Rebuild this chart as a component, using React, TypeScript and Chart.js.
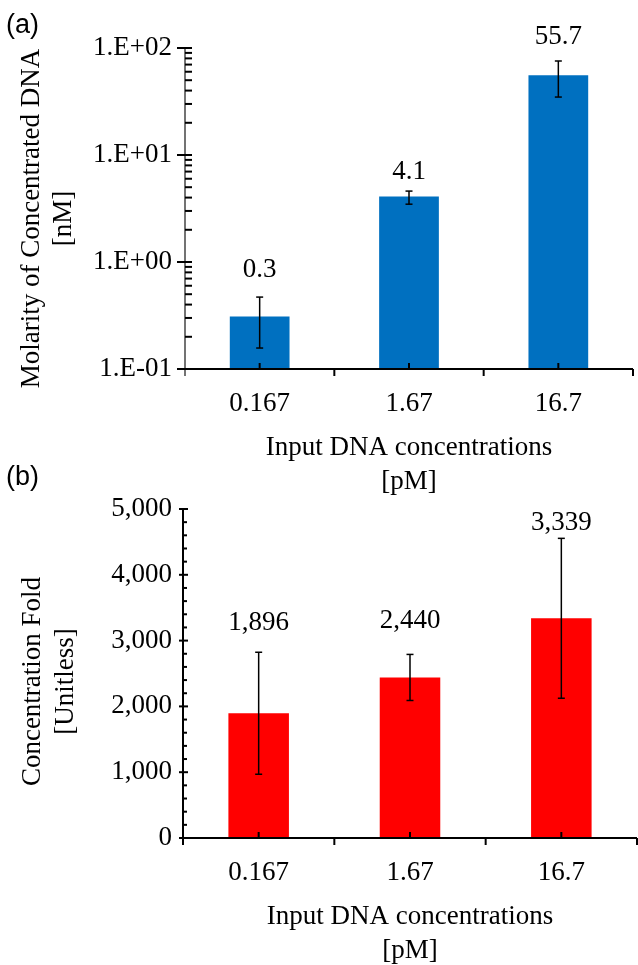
import React, { useEffect, useRef } from 'react';
import { Chart, registerables } from 'chart.js';

Chart.register(...registerables);

const categories = ['0.167', '1.67', '16.7'];

// (a) Molarity of concentrated DNA [nM]
const molarity = [0.31, 4.1, 55.7];
const molarityErrLow = [0.157, 3.47, 34.8];
const molarityErrHigh = [0.47, 4.6, 75.6];
const molarityLabels = ['0.3', '4.1', '55.7'];
const molarityTicks = [0.1, 1, 10, 100];

// (b) Concentration fold [unitless]
const fold = [1896, 2440, 3339];
const foldErr = [927, 350, 1215];
const foldLabels = ['1,896', '2,440', '3,339'];
const foldTicks = [0, 1000, 2000, 3000, 4000, 5000];

const SERIF = '"Liberation Serif", "Times New Roman", Times, serif';
const SANS = '"Liberation Sans", Arial, Helvetica, sans-serif';
const FS = 27;

type Deco = {
  panel: string; panelX: number; panelY: number;
  yTitle: string[]; yTitleX: number[]; yTitleShift: number;
  xTitle: string[]; xTitleDy: number[];
  majorTicks: number[]; minorTicks: number[];
  majorLeft: number; majorRight: number; minorRight: number;
  yAxisColor: string; yAxisWidth: number;
  errLow: number[]; errHigh: number[]; labels: string[]; labelGaps: number[];
};

function makeDeco(d: Deco) {
  return {
    id: 'deco',
    afterDatasetsDraw(chart: any) {
      const { ctx, chartArea: a } = chart;
      const xs = chart.scales.x;
      const ys = chart.scales.y;
      const n = chart.data.labels.length;
      const line = (x1: number, y1: number, x2: number, y2: number) => {
        ctx.beginPath(); ctx.moveTo(x1, y1); ctx.lineTo(x2, y2); ctx.stroke();
      };
      ctx.save();
      ctx.lineCap = 'butt';
      // error bars
      ctx.strokeStyle = '#000';
      ctx.lineWidth = 1.5;
      const tops: number[] = [];
      for (let i = 0; i < n; i++) {
        const px = xs.getPixelForValue(i);
        const t = ys.getPixelForValue(d.errHigh[i]);
        const b = ys.getPixelForValue(d.errLow[i]);
        tops.push(t);
        line(px, t, px, b);
        line(px - 3.5, t, px + 3.5, t);
        line(px - 3.5, b, px + 3.5, b);
      }
      // y axis line
      ctx.strokeStyle = d.yAxisColor;
      ctx.lineWidth = d.yAxisWidth;
      line(a.left, a.top, a.left, a.bottom + 7);
      // x axis line
      ctx.strokeStyle = '#000';
      ctx.lineWidth = 2;
      line(a.left - d.majorLeft, a.bottom, a.right, a.bottom);
      // y ticks
      d.majorTicks.forEach((v) => {
        const py = ys.getPixelForValue(v);
        line(a.left - d.majorLeft, py, a.left + d.majorRight, py);
      });
      d.minorTicks.forEach((v) => {
        const py = ys.getPixelForValue(v);
        line(a.left, py, a.left + d.minorRight, py);
      });
      // x ticks: category boundaries (down) and centers (up)
      for (let i = 1; i <= n; i++) {
        const bx = xs.getPixelForValue(i - 0.5);
        line(bx, a.bottom, bx, a.bottom + 7);
      }
      for (let i = 0; i < n; i++) {
        const cx = xs.getPixelForValue(i);
        line(cx, a.bottom, cx, a.bottom - 6);
      }
      // value labels
      ctx.fillStyle = '#000';
      ctx.font = `${FS}px ${SERIF}`;
      ctx.textAlign = 'center';
      ctx.textBaseline = 'middle';
      for (let i = 0; i < n; i++) {
        ctx.fillText(d.labels[i], xs.getPixelForValue(i), tops[i] - d.labelGaps[i]);
      }
      // x title
      const mx = (a.left + a.right) / 2;
      d.xTitle.forEach((t, k) => ctx.fillText(t, mx, a.bottom + d.xTitleDy[k]));
      // y title
      const my = (a.top + a.bottom) / 2 + d.yTitleShift;
      d.yTitle.forEach((t, k) => {
        ctx.save();
        ctx.translate(d.yTitleX[k], my);
        ctx.rotate(-Math.PI / 2);
        ctx.fillText(t, 0, 0);
        ctx.restore();
      });
      // panel label
      ctx.font = `${FS}px ${SANS}`;
      ctx.textAlign = 'left';
      ctx.fillText(d.panel, d.panelX, d.panelY);
      ctx.restore();
    },
  };
}

const fmtSci = (v: number) => {
  const e = Math.round(Math.log10(v));
  return '1.E' + (e < 0 ? '-' : '+') + String(Math.abs(e)).padStart(2, '0');
};

const tickFont = { family: SERIF, size: FS };

function configA(): any {
  const minor: number[] = [];
  for (let i = 0; i < molarityTicks.length - 1; i++) {
    for (let k = 2; k <= 9; k++) minor.push(molarityTicks[i] * k);
  }
  return {
    type: 'bar',
    data: {
      labels: categories,
      datasets: [{ data: molarity, backgroundColor: '#0070C0', barPercentage: 0.4, categoryPercentage: 1 }],
    },
    options: {
      responsive: true,
      maintainAspectRatio: false,
      animation: false,
      layout: { padding: { top: 48, right: 5, left: 0, bottom: 0 } },
      plugins: { legend: { display: false }, tooltip: { enabled: false }, title: { display: false } },
      scales: {
        x: {
          grid: { display: false, drawTicks: false },
          border: { display: false },
          ticks: { font: tickFont, color: '#000', padding: 19, maxRotation: 0, minRotation: 0, autoSkip: false },
          afterFit: (s: any) => { s.height = 131; },
        },
        y: {
          type: 'logarithmic',
          min: 0.1,
          max: 100,
          grid: { display: false, drawTicks: false },
          border: { display: false },
          ticks: { font: tickFont, color: '#000', padding: 13, autoSkip: false, callback: (v: any) => fmtSci(Number(v)) },
          afterBuildTicks: (s: any) => { s.ticks = molarityTicks.map((v) => ({ value: v })); },
          afterFit: (s: any) => { s.width = 185; },
        },
      },
    },
    plugins: [makeDeco({
      panel: '(a)', panelX: 6, panelY: 26,
      yTitle: ['Molarity of Concentrated DNA', '[nM]'], yTitleX: [32, 64], yTitleShift: 10,
      xTitle: ['Input DNA concentrations', '[pM]'], xTitleDy: [79, 113],
      majorTicks: molarityTicks, minorTicks: minor,
      majorLeft: 8, majorRight: 7, minorRight: 7,
      yAxisColor: '#444', yAxisWidth: 1.5,
      errLow: molarityErrLow, errHigh: molarityErrHigh, labels: molarityLabels, labelGaps: [27, 19, 24],
    })],
  };
}

function configB(): any {
  const minor: number[] = [];
  for (let i = 0; i < foldTicks.length - 1; i++) {
    const step = (foldTicks[i + 1] - foldTicks[i]) / 5;
    for (let k = 1; k < 5; k++) minor.push(foldTicks[i] + step * k);
  }
  return {
    type: 'bar',
    data: {
      labels: categories,
      datasets: [{ data: fold, backgroundColor: '#FF0000', barPercentage: 0.4, categoryPercentage: 1 }],
    },
    options: {
      responsive: true,
      maintainAspectRatio: false,
      animation: false,
      layout: { padding: { top: 54, right: 1, left: 0, bottom: 0 } },
      plugins: { legend: { display: false }, tooltip: { enabled: false }, title: { display: false } },
      scales: {
        x: {
          grid: { display: false, drawTicks: false },
          border: { display: false },
          ticks: { font: tickFont, color: '#000', padding: 19, maxRotation: 0, minRotation: 0, autoSkip: false },
          afterFit: (s: any) => { s.height = 127; },
        },
        y: {
          min: 0,
          max: 5000,
          grid: { display: false, drawTicks: false },
          border: { display: false },
          ticks: { font: tickFont, color: '#000', padding: 11, autoSkip: false, callback: (v: any) => Number(v).toLocaleString('en-US') },
          afterBuildTicks: (s: any) => { s.ticks = foldTicks.map((v) => ({ value: v })); },
          afterFit: (s: any) => { s.width = 183; },
        },
      },
    },
    plugins: [makeDeco({
      panel: '(b)', panelX: 6, panelY: 23,
      yTitle: ['Concentration Fold', '[Unitless]'], yTitleX: [33, 66], yTitleShift: 8,
      xTitle: ['Input DNA concentrations', '[pM]'], xTitleDy: [79, 113],
      majorTicks: foldTicks, minorTicks: minor,
      majorLeft: 4, majorRight: 5, minorRight: 4,
      yAxisColor: '#000', yAxisWidth: 2,
      errLow: fold.map((v, i) => v - foldErr[i]), errHigh: fold.map((v, i) => v + foldErr[i]),
      labels: foldLabels, labelGaps: [29, 34, 15],
    })],
  };
}

function Panel({ top, height, make }: { top: number; height: number; make: () => any }) {
  const ref = useRef<HTMLCanvasElement>(null);
  useEffect(() => {
    const chart = new Chart(ref.current as HTMLCanvasElement, make());
    return () => chart.destroy();
  }, []);
  return (
    <div style={{ position: 'absolute', left: 0, top, width: 638, height }}>
      <canvas ref={ref} />
    </div>
  );
}

export default function App() {
  return (
    <div style={{ position: 'absolute', left: 0, top: 0, width: 638, height: 965, background: '#fff' }}>
      <Panel top={0} height={500} make={configA} />
      <Panel top={455} height={510} make={configB} />
    </div>
  );
}
